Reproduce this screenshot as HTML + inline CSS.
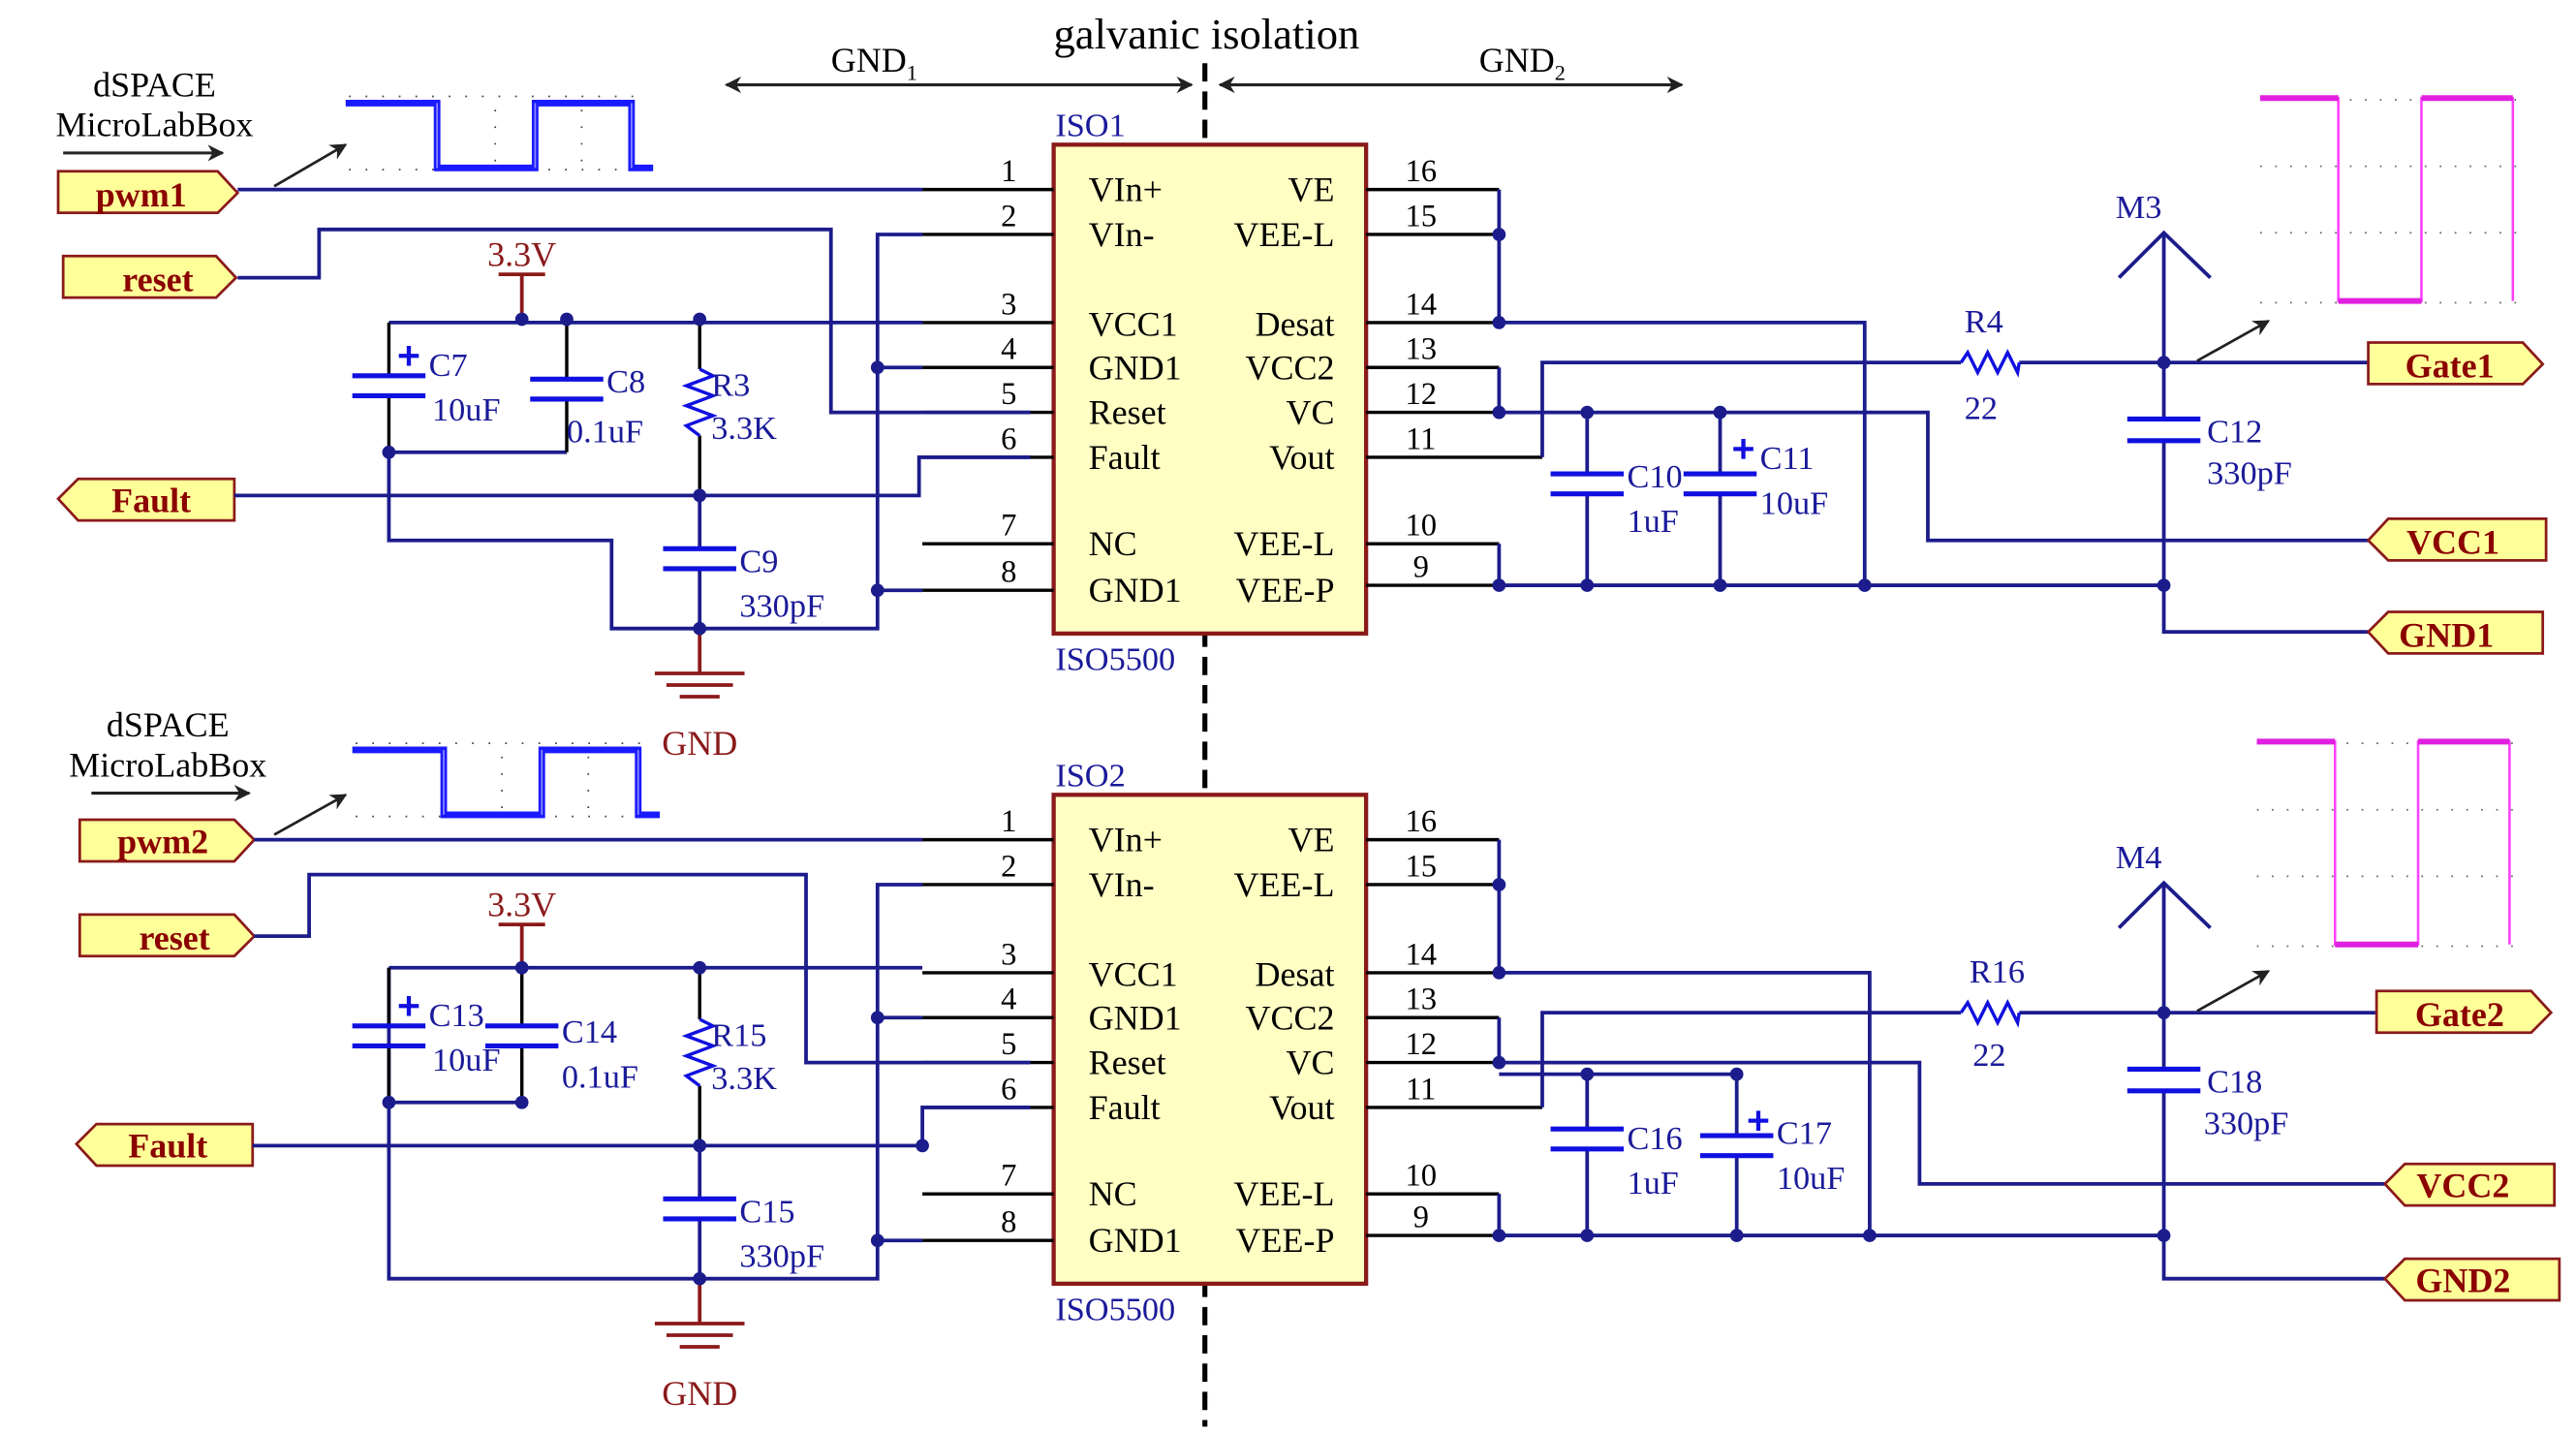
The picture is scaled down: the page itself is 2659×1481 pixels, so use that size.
<!DOCTYPE html>
<html><head><meta charset="utf-8"><style>
html,body{margin:0;padding:0;background:#fff}
svg{display:block}
text{font-family:"Liberation Serif",serif}
.w{stroke:#1c1c8c;stroke-width:2.2;fill:none}
.k{stroke:#000;stroke-width:2;fill:none}
.r{stroke:#8b1a1a;stroke-width:2.2;fill:none}
.c{stroke:#1010e0;stroke-width:3;fill:none}
.pn{font-size:19px;fill:#000}
.pl{font-size:21px;fill:#000}
.bl{font-size:20px;fill:#1a1a9a}
.cl{font-size:20px;fill:#1a1a9a}
.lb{fill:#ffff99;stroke:#8b1a1a;stroke-width:1.6}
.lt{font-size:21px;fill:#8b0000;font-weight:bold}
.dr{font-size:21px;fill:#8b1a1a}
.d{fill:#1c1c8c}
</style></head><body>
<svg width="2659" height="1481" viewBox="0 0 1550 863" preserveAspectRatio="none" xmlns="http://www.w3.org/2000/svg">
<defs>
<marker id="ah" markerWidth="10" markerHeight="10" refX="9" refY="5" orient="auto" markerUnits="userSpaceOnUse"><path d="M0,0 L10,5 L0,10 L3,5z" fill="#222"/></marker>
<marker id="ahs" markerWidth="10" markerHeight="10" refX="1" refY="5" orient="auto" markerUnits="userSpaceOnUse"><path d="M10,0 L0,5 L10,10 L7,5z" fill="#222"/></marker>
<g id="scopeB">
<line x1="210" y1="58" x2="390" y2="58" stroke="#444" stroke-width="1" stroke-dasharray="1,9"/>
<line x1="210" y1="102" x2="390" y2="102" stroke="#444" stroke-width="1" stroke-dasharray="1,9"/>
<line x1="298" y1="66" x2="298" y2="100" stroke="#444" stroke-width="1" stroke-dasharray="1,9"/>
<line x1="350" y1="66" x2="350" y2="100" stroke="#444" stroke-width="1" stroke-dasharray="1,9"/>
<path d="M208,62H263V101H322V62H380V101H393" stroke="#1a1aff" stroke-width="4" fill="none"/>
<path d="M263,62V101M322,101V62M380,62V101" stroke="#8888ff" stroke-width="1" fill="none"/>
</g>
<g id="scopeM">
<line x1="1360" y1="60" x2="1515" y2="60" stroke="#666" stroke-width="1" stroke-dasharray="1,8"/>
<line x1="1360" y1="100" x2="1515" y2="100" stroke="#666" stroke-width="1" stroke-dasharray="1,8"/>
<line x1="1360" y1="140" x2="1515" y2="140" stroke="#666" stroke-width="1" stroke-dasharray="1,8"/>
<line x1="1360" y1="182" x2="1515" y2="182" stroke="#666" stroke-width="1" stroke-dasharray="1,8"/>
<path d="M1360,59H1407V181H1457V59H1512V181" stroke="#ff40ff" stroke-width="1.5" fill="none"/>
<path d="M1360,59H1407M1407,181H1457M1457,59H1512" stroke="#e020e0" stroke-width="3.5" fill="none"/>
</g>
</defs>

<text x="726" y="29" text-anchor="middle" font-size="26">galvanic isolation</text>
<line x1="725" y1="38" x2="725" y2="858" stroke="#000" stroke-width="3" stroke-dasharray="11,6"/>
<line x1="437" y1="51" x2="717" y2="51" stroke="#222" stroke-width="1.8" marker-start="url(#ahs)" marker-end="url(#ah)"/>
<line x1="734" y1="51" x2="1012" y2="51" stroke="#222" stroke-width="1.8" marker-start="url(#ahs)" marker-end="url(#ah)"/>
<text x="500" y="43" font-size="21">GND<tspan font-size="13" dy="5">1</tspan></text>
<text x="890" y="43" font-size="21">GND<tspan font-size="13" dy="5">2</tspan></text>

<!-- ========== TOP ========== -->
<g id="top">
<text x="93" y="58" text-anchor="middle" font-size="21">dSPACE</text>
<text x="93" y="82" text-anchor="middle" font-size="21">MicroLabBox</text>
<line x1="38" y1="92" x2="134" y2="92" stroke="#222" stroke-width="1.8" marker-end="url(#ah)"/>
<line x1="165" y1="112" x2="208" y2="87" stroke="#222" stroke-width="1.6" marker-end="url(#ah)"/>
<use href="#scopeB"/>
<use href="#scopeM"/>

<path class="lb" d="M35,103H131L143,116L131,128H35z"/><text class="lt" x="85" y="124" text-anchor="middle">pwm1</text>
<path class="lb" d="M38,154H130L142,167L130,179H38z"/><text class="lt" x="95" y="175" text-anchor="middle">reset</text>
<path class="lb" d="M47,288H141V313H47L35,300z"/><text class="lt" x="91" y="308" text-anchor="middle">Fault</text>

<rect x="634" y="87" width="188" height="294" fill="#ffffc4" stroke="#8b1a1a" stroke-width="2.5"/>
<text class="bl" x="635" y="82">ISO1</text>
<text class="bl" x="635" y="403">ISO5500</text>
<g class="pl">
<text x="655" y="121">VIn+</text><text x="655" y="148">VIn-</text><text x="655" y="202">VCC1</text><text x="655" y="228">GND1</text>
<text x="655" y="255">Reset</text><text x="655" y="282">Fault</text><text x="655" y="334">NC</text><text x="655" y="362">GND1</text>
</g>
<g class="pl" text-anchor="end">
<text x="803" y="121">VE</text><text x="803" y="148">VEE-L</text><text x="803" y="202">Desat</text><text x="803" y="228">VCC2</text>
<text x="803" y="255">VC</text><text x="803" y="282">Vout</text><text x="803" y="334">VEE-L</text><text x="803" y="362">VEE-P</text>
</g>
<g class="k">
<path d="M555,114H634M555,141H634M555,194H634M555,221H634M555,248H634M555,275H634M555,327H634M555,355H634"/>
<path d="M822,114H902M822,141H902M822,194H902M822,221H902M822,248H902M822,275H928M822,327H902M822,352H902"/>
</g>
<g class="pn" text-anchor="middle">
<text x="607" y="109">1</text><text x="607" y="136">2</text><text x="607" y="189">3</text><text x="607" y="216">4</text>
<text x="607" y="243">5</text><text x="607" y="270">6</text><text x="607" y="322">7</text><text x="607" y="350">8</text>
<text x="855" y="109">16</text><text x="855" y="136">15</text><text x="855" y="189">14</text><text x="855" y="216">13</text>
<text x="855" y="243">12</text><text x="855" y="270">11</text><text x="855" y="322">10</text><text x="855" y="347">9</text>
</g>

<g class="w">
<path d="M143,114H555"/>
<path d="M143,167H192V138H500V248H620"/>
<path d="M234,194H555"/>
<path d="M141,298H553V275H620"/>
<path d="M234,272H341"/>
<path d="M234,272V325H368V378H528V141H555"/>
<path d="M528,221H555M528,355H555"/>
<path d="M421,298V330M421,342V378"/>
<path d="M902,114V194H1122V352"/>
<path d="M902,221V248H1160V325H1425"/>
<path d="M928,275V218H1180M1215,218H1425"/>
<path d="M902,327V352H1302V380H1425"/>
<path d="M955,248V285M955,297V352M1035,248V285M1035,297V352"/>
<path d="M1302,140V252M1302,265V352"/>
<path d="M1275,167L1302,140L1330,167"/>
</g>
<g class="k"><path d="M234,194V225M234,238V272M341,194V228M341,240V272M421,194V222M421,262V298"/></g>
<g class="c">
<path d="M212,226H256M212,238H256M319,228H363M319,240H363M399,330H443M399,342H443"/>
<path d="M933,285H977M933,297H977M1013,285H1057M1013,297H1057M1280,252H1324M1280,265H1324"/>
<path d="M421,222l8,4l-16,6l16,6l-16,6l16,6l-16,6l8,6" stroke-width="2"/>
<path d="M1180,218l4,-6l6,12l6,-12l6,12l6,-12l6,12l1,-6" stroke-width="2"/>
<path d="M246,208v12M240,214h12" stroke-width="2.5"/>
<path d="M1049,264v12M1043,270h12" stroke-width="2.5"/>
</g>
<g class="r">
<path d="M314,165V192M300,165H328"/>
<path d="M421,378V405M394,405H448M401,412H441M409,419H433"/>
</g>
<text class="dr" x="314" y="160" text-anchor="middle">3.3V</text>
<text class="dr" x="421" y="454" text-anchor="middle">GND</text>
<g class="cl">
<text x="258" y="226">C7</text><text x="260" y="253">10uF</text>
<text x="365" y="236">C8</text><text x="341" y="266">0.1uF</text>
<text x="428" y="238">R3</text><text x="428" y="264">3.3K</text>
<text x="445" y="344">C9</text><text x="445" y="371">330pF</text>
<text x="979" y="293">C10</text><text x="979" y="320">1uF</text>
<text x="1059" y="282">C11</text><text x="1059" y="309">10uF</text>
<text x="1182" y="200">R4</text><text x="1182" y="252">22</text>
<text x="1273" y="131">M3</text>
<text x="1328" y="266">C12</text><text x="1328" y="291">330pF</text>
</g>
<line x1="1322" y1="217" x2="1365" y2="193" stroke="#222" stroke-width="1.6" marker-end="url(#ah)"/>
<g class="d">
<circle cx="314" cy="192" r="4"/><circle cx="341" cy="192" r="4"/><circle cx="421" cy="192" r="4"/>
<circle cx="234" cy="272" r="4"/><circle cx="421" cy="298" r="4"/><circle cx="421" cy="378" r="4"/>
<circle cx="528" cy="221" r="4"/><circle cx="528" cy="355" r="4"/>
<circle cx="902" cy="141" r="4"/><circle cx="902" cy="194" r="4"/><circle cx="902" cy="248" r="4"/>
<circle cx="955" cy="248" r="4"/><circle cx="1035" cy="248" r="4"/>
<circle cx="902" cy="352" r="4"/><circle cx="955" cy="352" r="4"/><circle cx="1035" cy="352" r="4"/><circle cx="1122" cy="352" r="4"/><circle cx="1302" cy="352" r="4"/>
<circle cx="1302" cy="218" r="4"/>
</g>
<path class="lb" d="M1425,206H1518L1530,219L1518,231H1425z"/><text class="lt" x="1474" y="227" text-anchor="middle">Gate1</text>
<path class="lb" d="M1437,312H1532V337H1437L1425,325z"/><text class="lt" x="1476" y="333" text-anchor="middle">VCC1</text>
<path class="lb" d="M1437,368H1530V393H1437L1425,380z"/><text class="lt" x="1472" y="389" text-anchor="middle">GND1</text>
</g>

<!-- ========== BOTTOM ========== -->
<g transform="translate(0,391)">
<text x="101" y="52" text-anchor="middle" font-size="21">dSPACE</text>
<text x="101" y="76" text-anchor="middle" font-size="21">MicroLabBox</text>
<line x1="55" y1="86" x2="150" y2="86" stroke="#222" stroke-width="1.8" marker-end="url(#ah)"/>
<line x1="165" y1="111" x2="208" y2="87" stroke="#222" stroke-width="1.6" marker-end="url(#ah)"/>
<use href="#scopeB" transform="translate(4,-2)"/>
<use href="#scopeM" transform="translate(-2,-4)"/>

<path class="lb" d="M48,102H141L153,114L141,127H48z"/><text class="lt" x="98" y="122" text-anchor="middle">pwm2</text>
<path class="lb" d="M48,159H141L153,172L141,184H48z"/><text class="lt" x="105" y="180" text-anchor="middle">reset</text>
<path class="lb" d="M58,285H152V310H58L46,297z"/><text class="lt" x="101" y="305" text-anchor="middle">Fault</text>

<rect x="634" y="87" width="188" height="294" fill="#ffffc4" stroke="#8b1a1a" stroke-width="2.5"/>
<text class="bl" x="635" y="82">ISO2</text>
<text class="bl" x="635" y="403">ISO5500</text>
<g class="pl">
<text x="655" y="121">VIn+</text><text x="655" y="148">VIn-</text><text x="655" y="202">VCC1</text><text x="655" y="228">GND1</text>
<text x="655" y="255">Reset</text><text x="655" y="282">Fault</text><text x="655" y="334">NC</text><text x="655" y="362">GND1</text>
</g>
<g class="pl" text-anchor="end">
<text x="803" y="121">VE</text><text x="803" y="148">VEE-L</text><text x="803" y="202">Desat</text><text x="803" y="228">VCC2</text>
<text x="803" y="255">VC</text><text x="803" y="282">Vout</text><text x="803" y="334">VEE-L</text><text x="803" y="362">VEE-P</text>
</g>
<g class="k">
<path d="M555,114H634M555,141H634M555,194H634M555,221H634M555,248H634M555,275H634M555,327H634M555,355H634"/>
<path d="M822,114H902M822,141H902M822,194H902M822,221H902M822,248H902M822,275H928M822,327H902M822,352H902"/>
</g>
<g class="pn" text-anchor="middle">
<text x="607" y="109">1</text><text x="607" y="136">2</text><text x="607" y="189">3</text><text x="607" y="216">4</text>
<text x="607" y="243">5</text><text x="607" y="270">6</text><text x="607" y="322">7</text><text x="607" y="350">8</text>
<text x="855" y="109">16</text><text x="855" y="136">15</text><text x="855" y="189">14</text><text x="855" y="216">13</text>
<text x="855" y="243">12</text><text x="855" y="270">11</text><text x="855" y="322">10</text><text x="855" y="347">9</text>
</g>
<g class="w">
<path d="M153,114H555"/>
<path d="M153,172H186V135H485V248H620"/>
<path d="M234,191H314M314,191H555"/>
<path d="M152,298H555V275H620"/>
<path d="M234,272H314"/>
<path d="M234,191V378H528V141H555"/>
<path d="M528,221H555M528,355H555"/>
<path d="M421,298V330M421,342V378"/>
<path d="M902,114V194H1125V352"/>
<path d="M902,221V248H1155V321H1435"/>
<path d="M928,275V218H1180M1215,218H1430"/>
<path d="M902,327V352H1302V378H1435"/>
<path d="M955,255V288M955,300V352M1045,255V292M1045,304V352"/>
<path d="M902,255H1045"/>
<path d="M1302,140V252M1302,265V352"/>
<path d="M1275,167L1302,140L1330,167"/>
</g>
<g class="k"><path d="M234,191V225M234,238V272M314,191V225M314,238V272M421,191V222M421,262V298"/></g>
<g class="c">
<path d="M212,226H256M212,238H256M292,226H336M292,238H336M399,330H443M399,342H443"/>
<path d="M933,288H977M933,300H977M1023,292H1067M1023,304H1067M1280,252H1324M1280,265H1324"/>
<path d="M421,222l8,4l-16,6l16,6l-16,6l16,6l-16,6l8,6" stroke-width="2"/>
<path d="M1180,218l4,-6l6,12l6,-12l6,12l6,-12l6,12l1,-6" stroke-width="2"/>
<path d="M246,208v12M240,214h12" stroke-width="2.5"/>
<path d="M1058,277v12M1052,283h12" stroke-width="2.5"/>
</g>
<g class="r">
<path d="M314,165V191M300,165H328"/>
<path d="M421,378V405M394,405H448M401,412H441M409,419H433"/>
</g>
<text class="dr" x="314" y="160" text-anchor="middle">3.3V</text>
<text class="dr" x="421" y="454" text-anchor="middle">GND</text>
<g class="cl">
<text x="258" y="226">C13</text><text x="260" y="253">10uF</text>
<text x="338" y="236">C14</text><text x="338" y="263">0.1uF</text>
<text x="428" y="238">R15</text><text x="428" y="264">3.3K</text>
<text x="445" y="344">C15</text><text x="445" y="371">330pF</text>
<text x="979" y="300">C16</text><text x="979" y="327">1uF</text>
<text x="1069" y="297">C17</text><text x="1069" y="324">10uF</text>
<text x="1185" y="200">R16</text><text x="1187" y="250">22</text>
<text x="1273" y="131">M4</text>
<text x="1328" y="266">C18</text><text x="1326" y="291">330pF</text>
</g>
<line x1="1322" y1="217" x2="1365" y2="193" stroke="#222" stroke-width="1.6" marker-end="url(#ah)"/>
<g class="d">
<circle cx="314" cy="191" r="4"/><circle cx="421" cy="191" r="4"/>
<circle cx="234" cy="272" r="4"/><circle cx="314" cy="272" r="4"/><circle cx="421" cy="298" r="4"/><circle cx="555" cy="298" r="4"/><circle cx="421" cy="378" r="4"/>
<circle cx="528" cy="221" r="4"/><circle cx="528" cy="355" r="4"/>
<circle cx="902" cy="141" r="4"/><circle cx="902" cy="194" r="4"/><circle cx="902" cy="248" r="4"/>
<circle cx="955" cy="255" r="4"/><circle cx="1045" cy="255" r="4"/>
<circle cx="902" cy="352" r="4"/><circle cx="955" cy="352" r="4"/><circle cx="1045" cy="352" r="4"/><circle cx="1125" cy="352" r="4"/><circle cx="1302" cy="352" r="4"/>
<circle cx="1302" cy="218" r="4"/>
</g>
<path class="lb" d="M1430,205H1523L1535,218L1523,230H1430z"/><text class="lt" x="1480" y="226" text-anchor="middle">Gate2</text>
<path class="lb" d="M1447,309H1537V334H1447L1435,321z"/><text class="lt" x="1482" y="329" text-anchor="middle">VCC2</text>
<path class="lb" d="M1447,366H1540V391H1447L1435,378z"/><text class="lt" x="1482" y="386" text-anchor="middle">GND2</text>
</g>
</svg>
</body></html>
